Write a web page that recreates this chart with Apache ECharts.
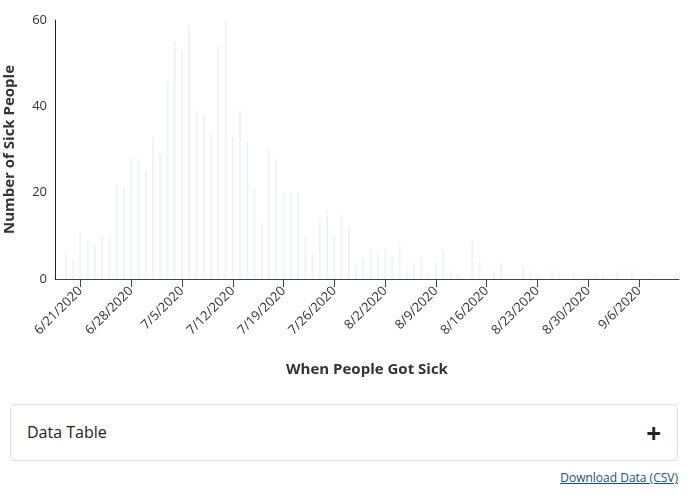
<!DOCTYPE html>
<html>
<head>
<meta charset="utf-8">
<script src="https://cdn.jsdelivr.net/npm/echarts@6/dist/echarts.min.js"></script>
<style>
  body { margin: 0; font-family: "Open Sans", sans-serif; background: #fff; }
  #chart_div { position: absolute; left: 0; top: 0; width: 692px; height: 400px; }
  #table_box { position: absolute; left: 10px; top: 404px; width: 668px; height: 57px;
    border: 1px solid #dcdcdc; border-radius: 5px; box-sizing: border-box; }
  #table_box span { position: absolute; left: 16px; top: 16px; font-size: 16px; color: #222; }
  #table_box b { position: absolute; right: 16px; top: 10px; font-size: 26px; color: #222; font-weight: 700; }
  #dl { position: absolute; right: 14px; top: 469px; font-size: 12px; color: #1b4f7a; text-decoration: underline; }
</style>
</head>
<body>
<div id="chart_div"></div>
<div id="table_box"><span>Data Table</span><b>+</b></div>
<div id="dl">Download Data (CSV)</div>
<script>
// 日期 6/18 ~ 9/11
let dates = []
let d = new Date(2020, 5, 18)
for (let i = 0; i < 86; i++) {
  dates.push((d.getMonth() + 1) + '/' + d.getDate() + '/2020')
  d.setDate(d.getDate() + 1)
}

// 每天发病人数
let sick = [
  0, 6, 4, 11, 9, 8, 10, 10, 22, 21, 28, 28, 25, 33, 29, 46, 55, 53, 59, 39,
  38, 34, 54, 60, 33, 39, 32, 21, 13, 30, 28, 20, 20, 20, 10, 6, 14, 16, 10, 15,
  12, 3, 5, 7, 6, 7, 5, 8, 2, 4, 5, 1, 4, 7, 2, 1, 0, 9, 4, 0,
  2, 4, 0, 0, 3, 2, 1, 0, 2, 1, 0, 1, 0, 1, 1, 1, 0, 2, 0, 2,
  0, 0, 1, 0, 0, 1
]

let myChart = echarts.init(document.getElementById('chart_div'))
let tickShow = function (i) { return (i - 3) % 7 == 0 }
myChart.setOption({
  animation: false,
  textStyle: { fontFamily: 'Open Sans' },
  grid: { left: 55, right: 13, top: 20, bottom: 121, containLabel: false, outerBoundsMode: 'none' },
  xAxis: {
    type: 'category',
    data: dates,
    name: 'When People Got Sick',
    nameLocation: 'middle',
    nameGap: 83,
    nameTextStyle: { fontSize: 15, fontWeight: 'bold', color: '#333' },
    axisLine: { lineStyle: { color: '#444' } },
    axisTick: { show: true, interval: tickShow, alignWithLabel: true, length: 8, lineStyle: { color: '#444' } },
    axisLabel: { interval: tickShow, rotate: 45, fontSize: 13, color: '#333', margin: 10 }
  },
  yAxis: {
    type: 'value',
    min: 0, max: 60, interval: 20,
    name: 'Number of Sick People',
    nameLocation: 'middle',
    nameGap: 38,
    nameTextStyle: { fontSize: 15, fontWeight: 'bold', color: '#333' },
    axisLine: { show: true, lineStyle: { color: '#222' } },
    axisTick: { show: false },
    splitLine: { show: false },
    axisLabel: { fontSize: 13, color: '#333' }
  },
  series: [{
    type: 'bar',
    data: sick,
    barWidth: 2,
    itemStyle: { color: '#f1f3f7' }
  }]
})
</script>
</body>
</html>
